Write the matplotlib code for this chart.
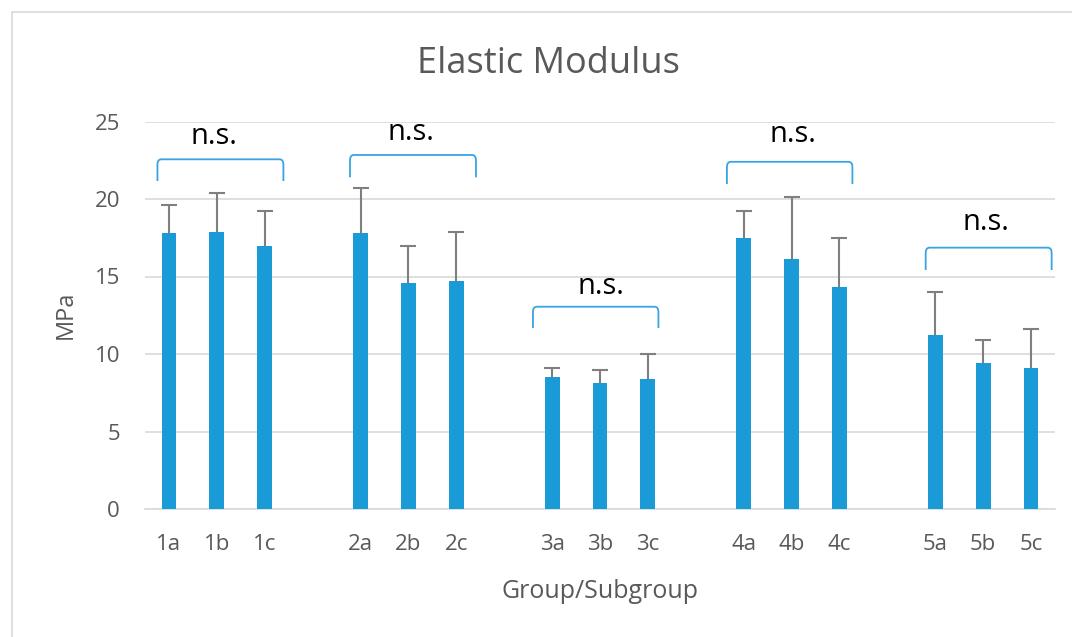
import numpy as np
import matplotlib
matplotlib.use('Agg')
import matplotlib.pyplot as plt
from matplotlib.path import Path
from matplotlib.patches import PathPatch, Rectangle

# data
labels = ['1a', '1b', '1c', '', '2a', '2b', '2c', '', '3a', '3b', '3c', '',
          '4a', '4b', '4c', '', '5a', '5b', '5c']
means = [17.8, 17.9, 17.0, np.nan, 17.8, 14.6, 14.7, np.nan,
         8.5, 8.1, 8.4, np.nan, 17.5, 16.1, 14.3, np.nan,
         11.2, 9.4, 9.1]
errs = [1.8, 2.5, 2.2, np.nan, 2.9, 2.4, 3.2, np.nan,
        0.6, 0.9, 1.6, np.nan, 1.7, 4.0, 3.2, np.nan,
        2.8, 1.5, 2.5]

# significance brackets: (left, right, top, leg bottom, text x, text y)
br_left = [-0.24, 3.78, 7.60, 11.65, 15.80]
br_right = [2.39, 6.41, 10.22, 14.27, 18.43]
br_top = [22.56, 22.84, 13.05, 22.40, 16.86]
br_bottom = [21.16, 21.40, 11.68, 20.97, 15.42]
ns_x = [0.94, 5.05, 9.02, 13.03, 17.06]
ns_y = [24.0, 24.26, 14.34, 24.13, 18.47]

bar_col = '#1a9ad6'
br_col = '#3aa3e3'
txt_col = '#595959'
font = 'Open Sans'

fig = plt.figure(figsize=(10.72, 6.37), dpi=100)
# light chart frame
fig.patches.append(Rectangle((12 / 1072, -0.1), 1.2, 1 - 12 / 637 + 0.1,
                             transform=fig.transFigure, fill=False,
                             edgecolor='#d9d9d9', linewidth=1.2))
ax = fig.add_axes([145 / 1072, 1 - 509 / 637, 910 / 1072, 387.5 / 637])

x = np.arange(len(labels))
means = np.array(means)
errs = np.array(errs)
ax.bar(x, means, width=0.31, color=bar_col, zorder=3)
# upper error bars only
ax.vlines(x, means, means + errs, colors='#7f7f7f', linewidth=1.5, zorder=4)
ax.plot(x, means + errs, linestyle='none', marker='_', markersize=12,
        markeredgewidth=1.5, color='#7f7f7f', zorder=4)

for i in range(len(br_left)):
    l, r, t, b = br_left[i], br_right[i], br_top[i], br_bottom[i]
    dx, dy = 0.08, 0.35
    verts = [(l, b), (l, t - dy), (l, t), (l + dx, t), (r - dx, t),
             (r, t), (r, t - dy), (r, b)]
    codes = [Path.MOVETO, Path.LINETO, Path.CURVE3, Path.CURVE3,
             Path.LINETO, Path.CURVE3, Path.CURVE3, Path.LINETO]
    ax.add_patch(PathPatch(Path(verts, codes), fill=False, edgecolor=br_col,
                           linewidth=1.3, zorder=5, clip_on=False))
    ax.text(ns_x[i], ns_y[i], 'n.s.', ha='center', va='center',
            fontsize=21, family=font, color='black', zorder=6)

ax.set_xlim(-0.5, len(labels) - 0.5)
ax.set_ylim(0, 25)
ax.set_yticks([0, 5, 10, 15, 20, 25])
ax.set_xticks(x)
ax.set_xticklabels(labels)
ax.yaxis.grid(True, color='#d9d9d9', linewidth=1.2, zorder=0)
ax.set_axisbelow(True)
for s in ['top', 'right', 'left']:
    ax.spines[s].set_visible(False)
ax.spines['bottom'].set_color('#d9d9d9')
ax.spines['bottom'].set_linewidth(1.2)
ax.tick_params(axis='both', length=0, labelsize=16, labelcolor=txt_col)
ax.tick_params(axis='x', pad=18)
ax.tick_params(axis='y', pad=18)
for lab in ax.get_xticklabels() + ax.get_yticklabels():
    lab.set_family(font)

ax.set_xlabel('Group/Subgroup', fontsize=18, family=font, color=txt_col,
              labelpad=17)
ax.set_ylabel('MPa', fontsize=17, family=font, color=txt_col, labelpad=12)
fig.text(548 / 1072, 1 - 64 / 637, 'Elastic Modulus', ha='center',
         va='center', fontsize=26, family=font, color=txt_col)

fig.savefig('out.png', dpi=100)
